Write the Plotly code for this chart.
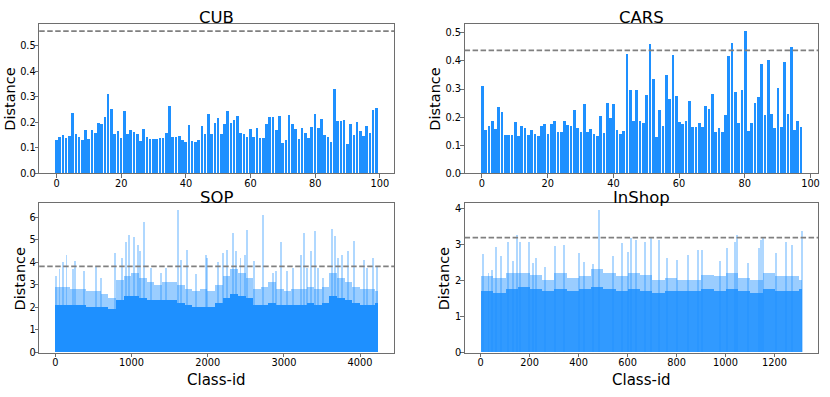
import plotly.graph_objects as go

# ---------------- data ----------------
cub_values = [0.130, 0.143, 0.150, 0.137, 0.146, 0.238, 0.156, 0.143, 0.130, 0.171,
              0.134, 0.169, 0.158, 0.198, 0.195, 0.220, 0.310, 0.251, 0.155, 0.168,
              0.138, 0.243, 0.155, 0.171, 0.164, 0.154, 0.129, 0.174, 0.143, 0.134,
              0.134, 0.134, 0.137, 0.140, 0.159, 0.266, 0.142, 0.142, 0.145, 0.130,
              0.123, 0.191, 0.128, 0.124, 0.132, 0.186, 0.156, 0.231, 0.154, 0.196,
              0.216, 0.156, 0.193, 0.245, 0.196, 0.208, 0.224, 0.159, 0.155, 0.142,
              0.174, 0.143, 0.177, 0.140, 0.140, 0.195, 0.221, 0.221, 0.171, 0.224,
              0.120, 0.130, 0.230, 0.193, 0.174, 0.134, 0.177, 0.158, 0.140, 0.181,
              0.231, 0.178, 0.213, 0.151, 0.141, 0.123, 0.332, 0.204, 0.204, 0.211,
              0.116, 0.195, 0.149, 0.203, 0.167, 0.148, 0.187, 0.160, 0.249, 0.258]

cars_values = [0.312, 0.156, 0.168, 0.187, 0.158, 0.237, 0.218, 0.135, 0.138, 0.137,
               0.184, 0.134, 0.167, 0.160, 0.136, 0.155, 0.140, 0.133, 0.170, 0.175,
               0.140, 0.177, 0.187, 0.147, 0.149, 0.185, 0.173, 0.168, 0.227, 0.162,
               0.147, 0.248, 0.147, 0.157, 0.140, 0.134, 0.205, 0.144, 0.251, 0.196,
               0.248, 0.153, 0.140, 0.151, 0.424, 0.298, 0.188, 0.298, 0.185, 0.178,
               0.279, 0.460, 0.337, 0.128, 0.224, 0.168, 0.350, 0.263, 0.421, 0.277,
               0.182, 0.176, 0.187, 0.257, 0.165, 0.164, 0.180, 0.165, 0.238, 0.229,
               0.283, 0.148, 0.161, 0.149, 0.209, 0.418, 0.464, 0.290, 0.181, 0.295,
               0.506, 0.150, 0.180, 0.252, 0.270, 0.388, 0.208, 0.403, 0.210, 0.162,
               0.303, 0.165, 0.396, 0.211, 0.451, 0.155, 0.185, 0.165]

# SOP (4235 classes): read per 100-class bin -> dense level and upper envelope, plus visible spikes
sop_n_classes = 4235
sop_bin_size = 100
sop_dense = [2.1, 2.1, 2.1, 2.1, 2.0, 2.0, 2.0, 1.9, 2.3, 2.5,
             2.5, 2.4, 2.3, 2.3, 2.3, 2.3, 2.2, 2.1, 2.0, 2.0,
             2.0, 2.2, 2.4, 2.6, 2.5, 2.4, 2.1, 2.1, 2.2, 2.1,
             2.1, 2.1, 2.1, 2.2, 2.1, 2.2, 2.5, 2.4, 2.3, 2.2,
             2.1, 2.1, 2.2]
sop_upper = [2.9, 2.9, 2.8, 2.8, 2.7, 2.7, 2.6, 2.4, 3.2, 3.4,
             3.5, 3.3, 3.1, 3.0, 3.1, 3.1, 3.0, 2.8, 2.7, 2.8,
             2.7, 3.0, 3.4, 3.7, 3.5, 3.3, 2.8, 2.9, 3.1, 2.8,
             2.7, 2.8, 2.8, 2.9, 2.8, 2.9, 3.5, 3.3, 3.1, 2.9,
             2.8, 2.8, 2.7]
sop_spike_ids = [13, 57, 100, 149, 232, 266, 384, 537, 603, 791,
                 874, 935, 974, 1040, 1092, 1118, 1171, 1258, 1389, 1450,
                 1612, 1647, 1734, 1844, 1975, 1997, 2141, 2206, 2259, 2333,
                 2368, 2433, 2486, 2521, 2608, 2726, 2866, 2901, 2962, 3041,
                 3128, 3224, 3268, 3311, 3360, 3413, 3456, 3521, 3630, 3674,
                 3718, 3762, 3849, 3923, 4054, 4089, 4168, 4220]
sop_spike_vals = [3.4, 3.7, 4.0, 4.33, 3.67, 4.06, 3.6, 3.8, 3.3, 4.4,
                  4.2, 4.9, 5.2, 5.1, 4.77, 4.47, 5.79, 3.73, 3.5, 3.73,
                  6.3, 4.1, 4.55, 3.45, 4.3, 4.2, 4.0, 4.4, 4.55, 5.28,
                  4.5, 4.18, 4.33, 5.42, 4.04, 6.1, 3.52, 3.6, 4.9, 3.6,
                  3.74, 4.3, 5.28, 3.74, 4.47, 5.38, 3.74, 3.3, 5.47, 5.17,
                  4.2, 4.33, 4.47, 4.94, 4.1, 3.74, 4.2, 3.8]

# InShop (1313 classes): per 50-class bin levels, plus visible spikes
inshop_n_classes = 1313
inshop_bin_size = 50
inshop_dense = [1.7, 1.65, 1.75, 1.8, 1.75, 1.7, 1.75, 1.7, 1.75, 1.8,
                1.75, 1.7, 1.75, 1.7, 1.65, 1.7, 1.7, 1.7, 1.75, 1.7,
                1.75, 1.7, 1.65, 1.75, 1.7, 1.7, 1.75]
inshop_upper = [2.1, 2.05, 2.2, 2.2, 2.15, 2.0, 2.2, 2.05, 2.1, 2.3,
                2.2, 2.1, 2.2, 2.15, 2.0, 2.05, 2.0, 2.0, 2.15, 2.1,
                2.2, 2.05, 2.0, 2.2, 2.1, 2.1, 2.0]
inshop_spike_ids = [7, 30, 46, 61, 82, 109, 129, 147, 158, 197,
                    213, 224, 260, 303, 340, 398, 420, 455, 480, 538,
                    575, 599, 613, 634, 670, 695, 728, 760, 800, 845,
                    885, 901, 975, 1003, 1037, 1045, 1090, 1136, 1143, 1152,
                    1204, 1245, 1268, 1312]
inshop_spike_vals = [2.72, 2.2, 2.29, 2.93, 2.66, 3.07, 2.52, 3.25, 3.07, 3.07,
                     2.47, 2.61, 2.35, 2.95, 2.98, 2.75, 2.5, 2.45, 3.95, 2.66,
                     3.02, 2.79, 3.16, 3.11, 3.07, 3.16, 3.11, 2.6, 2.55, 2.7,
                     2.84, 2.84, 2.54, 2.89, 3.07, 3.25, 2.47, 2.89, 3.11, 3.16,
                     2.75, 3.07, 2.98, 3.36]

thresholds = [0.557, 0.437, 3.82, 3.19]
titles = ["CUB", "CARS", "SOP", "InShop"]
y_label = "Distance"
x_label = "Class-id"

# ---------------- figure ----------------
BLUE = "#1E90FF"
FONT = "DejaVu Sans"
fig = go.Figure()

fig.add_trace(go.Bar(x=list(range(len(cub_values))), y=cub_values, width=0.8,
                     marker=dict(color=BLUE, line=dict(width=0)), xaxis="x", yaxis="y"))
fig.add_trace(go.Bar(x=list(range(len(cars_values))), y=cars_values, width=0.8,
                     marker=dict(color=BLUE, line=dict(width=0)), xaxis="x2", yaxis="y2"))


def binned(n, size, vals):
    xs, ws = [], []
    for i in range(len(vals)):
        a = i * size
        b = min(n, a + size)
        xs.append((a + b) / 2 - 0.5)
        ws.append(b - a)
    return xs, ws


for (n, size, dense, upper, sid, sval, ax, ay, sw, dop) in [
    (sop_n_classes, sop_bin_size, sop_dense, sop_upper, sop_spike_ids, sop_spike_vals, "x3", "y3", 13, 1.0),
    (inshop_n_classes, inshop_bin_size, inshop_dense, inshop_upper, inshop_spike_ids, inshop_spike_vals, "x4", "y4", 4, 0.85),
]:
    xs, ws = binned(n, size, upper)
    fig.add_trace(go.Bar(x=xs, y=upper, width=ws, marker=dict(color=BLUE, opacity=0.45, line=dict(width=0)),
                         xaxis=ax, yaxis=ay))
    fig.add_trace(go.Bar(x=sid, y=sval, width=sw, marker=dict(color=BLUE, opacity=0.35, line=dict(width=0)),
                         xaxis=ax, yaxis=ay))
    xs, ws = binned(n, size, dense)
    fig.add_trace(go.Bar(x=xs, y=dense, width=ws, marker=dict(color=BLUE, opacity=dop, line=dict(width=0)),
                         xaxis=ax, yaxis=ay))

W, H = 830, 397
def px_x(p): return p / W
def px_y(p): return 1 - p / H

xdom_l = [px_x(39.3), px_x(395)]
xdom_r = [px_x(465.7), px_x(820)]
ydom_t = [px_y(175.7), px_y(24.3)]
ydom_b = [px_y(357), px_y(206)]

AXC = "#6e6e6e"
tickfont = dict(family=FONT, size=9.8, color="black")
common = dict(showgrid=False, zeroline=False, showline=True, linecolor=AXC, linewidth=1,
              mirror=True, ticks="outside", ticklen=3.5, tickwidth=1, tickcolor=AXC,
              tickfont=tickfont, ticklabelstandoff=-3)

fig.update_layout(
    width=W, height=H, margin=dict(l=0, r=0, t=0, b=0),
    plot_bgcolor="white", paper_bgcolor="white", showlegend=False,
    barmode="overlay", bargap=0,
    xaxis=dict(domain=xdom_l, anchor="y", range=[-5.39, 104.39], tickvals=[0, 20, 40, 60, 80, 100], **common),
    yaxis=dict(domain=ydom_t, anchor="x", range=[0, 0.585], tickvals=[0, 0.1, 0.2, 0.3, 0.4, 0.5],
               tickformat=".1f", **common),
    xaxis2=dict(domain=xdom_r, anchor="y2", range=[-5.29, 102.29], tickvals=[0, 20, 40, 60, 80, 100], **common),
    yaxis2=dict(domain=ydom_t, anchor="x2", range=[0, 0.531], tickvals=[0, 0.1, 0.2, 0.3, 0.4, 0.5],
                tickformat=".1f", **common),
    xaxis3=dict(domain=xdom_l, anchor="y3", range=[-212, 4446], tickvals=[0, 1000, 2000, 3000, 4000], **common),
    yaxis3=dict(domain=ydom_b, anchor="x3", range=[0, 6.62], tickvals=[0, 1, 2, 3, 4, 5, 6], **common),
    xaxis4=dict(domain=xdom_r, anchor="y4", range=[-66, 1378], tickvals=[0, 200, 400, 600, 800, 1000, 1200], **common),
    yaxis4=dict(domain=ydom_b, anchor="x4", range=[0, 4.14], tickvals=[0, 1, 2, 3, 4], **common),
)

axes = [("x", "y"), ("x2", "y2"), ("x3", "y3"), ("x4", "y4")]
for (ax, ay), thr in zip(axes, thresholds):
    fig.add_shape(type="line", xref=f"{ax} domain", yref=ay, x0=0, x1=1, y0=thr, y1=thr,
                  line=dict(color="#808080", width=1.7, dash="5.5px,2.5px"))

title_pos = [((39.3 + 395) / 2, 17.5), ((465.7 + 820) / 2, 17.5), ((39.3 + 395) / 2, 200.5), ((465.7 + 820) / 2, 200.5)]
for t, (cx, cy) in zip(titles, title_pos):
    fig.add_annotation(text=t, xref="paper", yref="paper", x=px_x(cx), y=px_y(cy),
                       xanchor="center", yanchor="middle", showarrow=False,
                       font=dict(family=FONT, size=16.5, color="black"))

ylab_pos = [(10, 100), (436, 100), (20, 282), (446, 282)]
for (cx, cy) in ylab_pos:
    fig.add_annotation(text=y_label, xref="paper", yref="paper", x=px_x(cx), y=px_y(cy),
                       xanchor="center", yanchor="middle", textangle=-90, showarrow=False,
                       font=dict(family=FONT, size=14.5, color="black"))

xlab_pos = [(217.5, 384.5), (643, 384.5)]
for (cx, cy) in xlab_pos:
    fig.add_annotation(text=x_label, xref="paper", yref="paper", x=px_x(cx), y=px_y(cy),
                       xanchor="center", yanchor="middle", showarrow=False,
                       font=dict(family=FONT, size=15, color="black"))

fig.write_html("out.html", config={"displayModeBar": False},
               post_script="document.body.style.margin='0';document.body.style.overflow='hidden';")
